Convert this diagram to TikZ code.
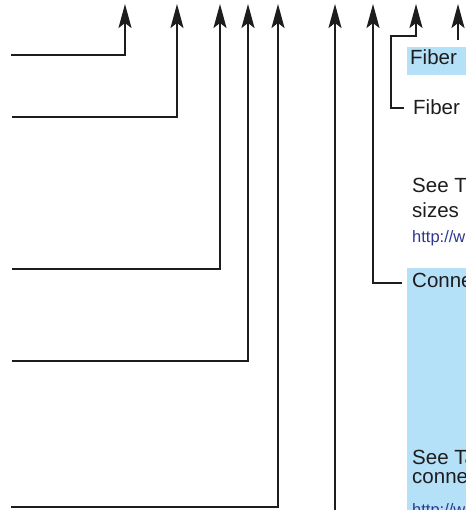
\documentclass[tikz,border=0pt]{standalone}
\usepackage{fontspec}
\setmainfont{Liberation Sans}
\usetikzlibrary{arrows.meta}
\definecolor{boxblue}{RGB}{180,224,248}
\definecolor{urlblue}{RGB}{45,55,145}
\definecolor{ink}{RGB}{30,28,29}
\tikzset{
  conn/.style={draw=ink, line width=2bp, line join=miter},
  arr/.style={conn, -{Stealth[length=24bp, width=13bp, inset=5bp]}},
  lbl/.style={anchor=base west, inner sep=0pt, text=ink, font=\fontsize{20.5bp}{24bp}\selectfont},
  url/.style={anchor=base west, inner sep=0pt, text=urlblue, font=\fontsize{16.5bp}{20bp}\selectfont},
  bluebox/.style={fill=boxblue}
}
\begin{document}
\begin{tikzpicture}[x=1bp, y=-1bp]
\useasboundingbox (0,0) rectangle (466,510);
\clip (0,0) rectangle (466,510);
% blue boxes
\fill[bluebox] (407,47) rectangle (470,75);
\fill[bluebox] (407,268) rectangle (470,515);
% texts
\node[lbl] (f1) at (410,65) {Fiber};
\node[lbl] (f2) at (413,115) {Fiber};
\node[lbl] (s1) at (412,193) {See T};
\node[lbl] (s2) at (412,217) {sizes};
\node[url] (u1) at (412,242) {http://w};
\node[lbl] (c1) at (412,287) {Conne};
\node[lbl] (s3) at (412,464) {See Ta};
\node[lbl] (s4) at (412,483) {conne};
\node[url] (u2) at (412,515) {http://w};
% coordinates
\coordinate (a1s) at (11,55);   \coordinate (a1t) at (125,4);
\coordinate (a2s) at (12,117);  \coordinate (a2t) at (177,4);
\coordinate (a3s) at (12,269);  \coordinate (a3t) at (220,4);
\coordinate (a4s) at (12,361);  \coordinate (a4t) at (248,4);
\coordinate (a5s) at (11,507);  \coordinate (a5t) at (278,4);
\coordinate (a6s) at (335,512); \coordinate (a6t) at (335,4);
\coordinate (a7s) at (402,283); \coordinate (a7t) at (373,4);
\coordinate (a8s) at (404,108); \coordinate (a8t) at (416,4);
\coordinate (a9s) at (458,40);  \coordinate (a9t) at (458,4);
% connectors
\draw[arr] (a1s) -| (a1t);
\draw[arr] (a2s) -| (a2t);
\draw[arr] (a3s) -| (a3t);
\draw[arr] (a4s) -| (a4t);
\draw[arr] (a5s) -| (a5t);
\draw[arr] (a6s) -- (a6t);
\draw[arr] (a7s) -| (a7t);
\draw[arr] (a8s) -- ++(-13,0) |- (416,36) -- (a8t);
\draw[arr] (a9s) -- (a9t);
\end{tikzpicture}
\end{document}
